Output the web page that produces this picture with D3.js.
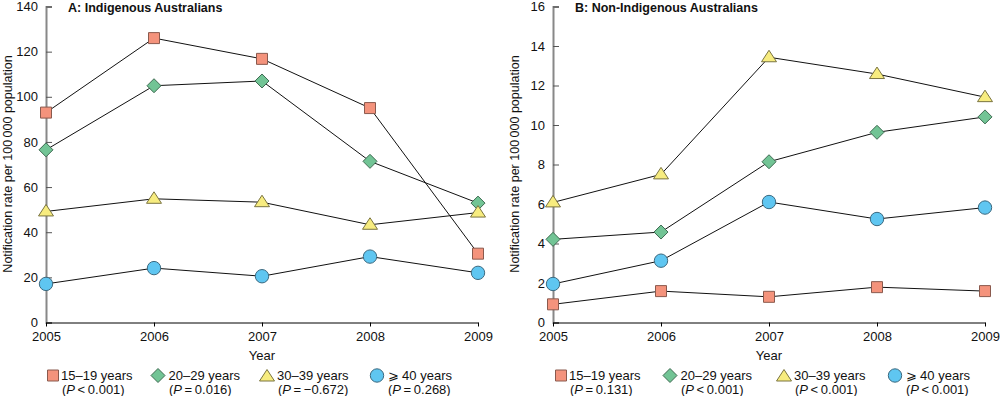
<!DOCTYPE html>
<html>
<head>
<meta charset="utf-8">
<script src="https://cdn.jsdelivr.net/npm/d3@7"></script>
<style>
  body { margin: 0; background: #fff; }
  svg { font-family: "Liberation Sans", Arial, sans-serif; }
</style>
</head>
<body>
<svg id="chart" width="1000" height="396"></svg>
<script>
const years = [2005, 2006, 2007, 2008, 2009];
const groups = ['15\u201319 years', '20\u201329 years', '30\u201339 years', '\u2a7e 40 years'];

// Panel A: Indigenous
const indig1519 = [93.0, 126.0, 116.8, 95.0, 30.5];
const indig2029 = [76.5, 104.9, 107.0, 71.4, 52.9];
const indig3039 = [49.2, 54.8, 53.3, 43.3, 48.7];
const indig40 = [17.1, 24.1, 20.5, 29.2, 22.0];
const indigP = ['<\u20090.001', '=\u20090.016', '=\u2009\u22120.672', '=\u20090.268'];
const indigTicks = [0, 20, 40, 60, 80, 100, 120, 140];

// Panel B: Non-Indigenous
const non1519 = [0.92, 1.59, 1.30, 1.79, 1.59];
const non2029 = [4.21, 4.58, 8.14, 9.63, 10.41];
const non3039 = [6.08, 7.50, 13.43, 12.58, 11.41];
const non40 = [1.95, 3.13, 6.10, 5.24, 5.82];
const nonP = ['=\u20090.131', '<\u20090.001', '<\u20090.001', '<\u20090.001'];
const nonTicks = [0, 2, 4, 6, 8, 10, 12, 14, 16];

const fills = ['#f4937c', '#72c495', '#f7ec7f', '#5fc6f1'];
const strokes = ['#8a5a4e', '#3f6b52', '#7a7440', '#3d6a80'];

// marker shapes drawn around (0,0)
const shapePaths = [
  'M-5.5,-5.5H5.5V5.5H-5.5Z',
  'M0,-7L7,0L0,7L-7,0Z',
  'M0,-7L7.5,4.5H-7.5Z',
  d3.symbol().type(d3.symbolCircle).size(Math.PI * 6.7 * 6.7)()
];
// legend text offsets right of the marker
const nameOffset = [8, 10.5, 10, 10.5];
const pOffset = [9, 11, 11, 11];

const svg = d3.select('#chart');

function drawPanel(opts) {
  const g = svg.append('g');
  const x = d3.scaleLinear().domain([2005, 2009]).range([opts.x0, opts.x1]);
  const y = d3.scaleLinear().domain([0, opts.max]).range([322.5, 6.5]);

  // y axis
  const ya = g.append('g').attr('transform', `translate(${opts.x0},0)`)
    .call(d3.axisRight(y).tickValues(opts.ticks).tickSize(6).tickFormat(d3.format('d')));
  ya.select('.domain').attr('stroke', '#888').attr('stroke-width', 2);
  ya.selectAll('.tick line').attr('stroke', '#555');
  ya.selectAll('.tick text').attr('x', -8).attr('text-anchor', 'end')
    .attr('font-size', 13).attr('fill', '#111').attr('font-family', 'Liberation Sans, Arial, sans-serif');

  // x axis
  const xa = g.append('g').attr('transform', 'translate(0,322.5)')
    .call(d3.axisBottom(x).tickValues(years).tickSize(4).tickSizeOuter(0).tickFormat(d3.format('d')));
  xa.select('.domain').attr('stroke', '#000');
  xa.selectAll('.tick line').attr('stroke', '#000');
  xa.selectAll('.tick text').attr('font-size', 13).attr('fill', '#111').attr('dy', '0.9em')
    .attr('font-family', 'Liberation Sans, Arial, sans-serif');

  // labels
  g.append('text').attr('x', (opts.x0 + opts.x1) / 2).attr('y', 360)
    .attr('text-anchor', 'middle').attr('font-size', 13).attr('fill', '#111').text('Year');
  g.append('text').attr('transform', `translate(${opts.x0 - 34},164) rotate(-90)`)
    .attr('text-anchor', 'middle').attr('font-size', 12.5).attr('fill', '#111')
    .text('Notification rate per 100\u2009000 population');
  g.append('text').attr('x', opts.x0 + 22).attr('y', 12)
    .attr('font-size', 12.5).attr('font-weight', 'bold').attr('fill', '#111').text(opts.title);

  const line = d3.line().x((d, i) => x(years[i])).y(d => y(d));
  opts.series.forEach(s => {
    g.append('path').attr('d', line(s)).attr('fill', 'none').attr('stroke', '#111').attr('stroke-width', 1);
  });
  opts.series.forEach((s, k) => {
    g.selectAll(null).data(s).enter().append('path')
      .attr('d', shapePaths[k])
      .attr('transform', (d, i) => `translate(${x(years[i])},${y(d)})`)
      .attr('fill', fills[k]).attr('stroke', strokes[k]).attr('stroke-width', 1);
  });

  // legend
  groups.forEach((name, k) => {
    const lx = opts.legendX[k];
    g.append('path').attr('d', shapePaths[k])
      .attr('transform', `translate(${lx},${375.5 + (k === 2 ? 1 : 0)})`)
      .attr('fill', fills[k]).attr('stroke', strokes[k]).attr('stroke-width', 1);
    g.append('text').attr('x', lx + nameOffset[k]).attr('y', 380).attr('font-size', 13).attr('fill', '#111').text(name);
    const t = g.append('text').attr('x', lx + pOffset[k]).attr('y', 393.5).attr('font-size', 13).attr('fill', '#111');
    t.append('tspan').text('(');
    t.append('tspan').attr('font-style', 'italic').text('P');
    t.append('tspan').text('\u2009' + opts.pvals[k] + ')');
  });
}

drawPanel({
  x0: 46, x1: 478, max: 140, ticks: indigTicks, title: 'A: Indigenous Australians',
  series: [indig1519, indig2029, indig3039, indig40], pvals: indigP,
  legendX: [53, 158, 267, 377]
});
drawPanel({
  x0: 553, x1: 985, max: 16, ticks: nonTicks, title: 'B: Non-Indigenous Australians',
  series: [non1519, non2029, non3039, non40], pvals: nonP,
  legendX: [561, 670, 784, 895]
});
</script>
</body>
</html>
